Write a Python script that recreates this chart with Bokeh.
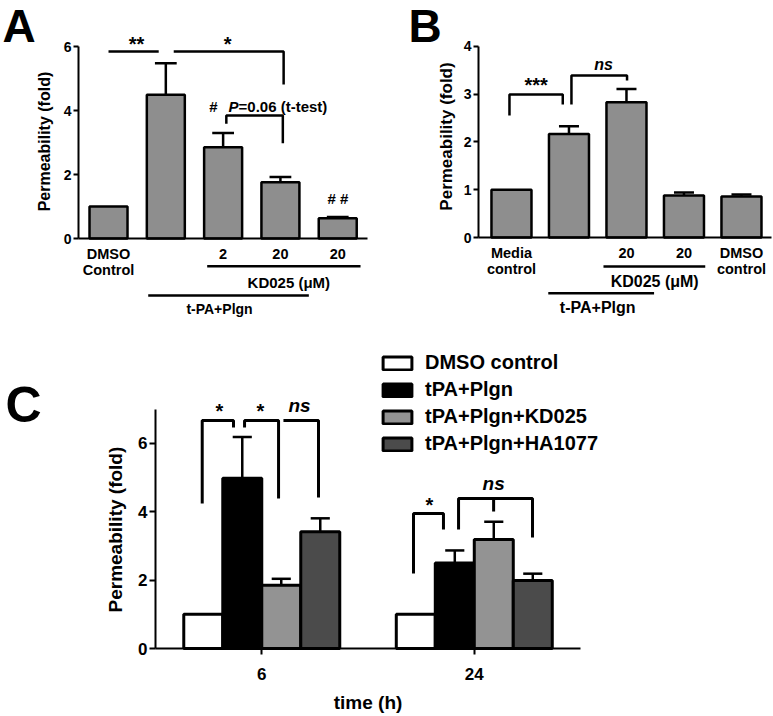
import math
from bokeh.plotting import figure
from bokeh.models import Range1d, LinearAxis, FixedTicker, ColumnDataSource, Legend, LegendItem
from bokeh.layouts import column, row
from bokeh.core.properties import value
from bokeh.transform import dodge
from bokeh.embed import file_html
from bokeh.resources import INLINE

FONT = "Liberation Sans"
FV = value(FONT)

# ---------------- data ----------------
# Panel A
a_x = [0, 1, 2, 3, 4]
a_labels = ["DMSO\nControl", "", "2", "20", "20"]
a_values = [1.00, 4.49, 2.85, 1.76, 0.63]
a_errors = [0.00, 0.99, 0.45, 0.16, 0.04]
a_yticks = [0, 2, 4, 6]

# Panel B
b_x = [0, 1, 2, 3, 4]
b_labels = ["Media\ncontrol", "", "20", "20", "DMSO\ncontrol"]
b_values = [1.00, 2.17, 2.83, 0.88, 0.86]
b_errors = [0.00, 0.16, 0.28, 0.06, 0.04]
b_yticks = [0, 1, 2, 3, 4]

# Panel C
c_x = [0.5, 1.5]
c_times = ["6", "24"]
c_series = ["DMSO control", "tPA+Plgn", "tPA+Plgn+KD025", "tPA+Plgn+HA1077"]
c_dmso = [1.00, 1.00]
c_tpa = [4.98, 2.50]
c_kd = [1.85, 3.19]
c_ha = [3.42, 1.99]
c_dmso_err = [0.00, 0.00]
c_tpa_err = [1.21, 0.37]
c_kd_err = [0.19, 0.52]
c_ha_err = [0.39, 0.20]
c_yticks = [0, 2, 4, 6]
c_colors = ["white", "black", "#939393", "#4b4b4b"]

BAR_GRAY = "#8e8e8e"


def make_fig(w, h, xr, yr):
    p = figure(width=w, height=h, x_range=Range1d(*xr), y_range=Range1d(*yr),
               x_axis_type=None, y_axis_type=None, toolbar_location=None,
               output_backend="svg", min_border=0, outline_line_color=None,
               background_fill_color="white", border_fill_color="white")
    p.min_border_left = 0
    p.min_border_right = 0
    p.min_border_top = 0
    p.min_border_bottom = 0
    return p


def style_axis(ax, size, tick_out, standoff):
    ax.axis_line_width = 2
    ax.axis_line_color = "black"
    ax.major_tick_line_width = 2
    ax.major_tick_line_color = "black"
    ax.major_tick_out = tick_out
    ax.major_tick_in = 0
    ax.minor_tick_line_color = None
    ax.major_label_text_font = FONT
    ax.major_label_text_font_style = "bold"
    ax.major_label_text_font_size = size
    ax.major_label_text_color = "black"
    ax.major_label_text_line_height = 1.0
    ax.major_label_standoff = standoff


def txt(p, x, y, t, size, align="center", baseline="middle", style="bold", angle=0.0):
    p.text(x=x, y=y, text=t, text_font=FV, text_font_style=style, text_font_size=size,
           text_align=align, text_baseline=baseline, text_color="black", angle=angle)


def error_bars(p, xs, vals, errs, half):
    x0, y0, y1 = [], [], []
    for x, v, e in zip(xs, vals, errs):
        if e > 0:
            x0.append(x); y0.append(v); y1.append(v + e)
    p.segment(x0=x0, y0=y0, x1=x0, y1=y1, line_color="black", line_width=2.5)
    p.segment(x0=[x - half for x in x0], y0=y1, x1=[x + half for x in x0], y1=y1,
              line_color="black", line_width=2.5)


# ---------------- Panel A ----------------
pA = make_fig(390, 318, (-1.885, 4.921), (-2.5, 7.4375))
yA = LinearAxis(fixed_location=-0.5236, bounds=(0, 6), ticker=FixedTicker(ticks=a_yticks))
style_axis(yA, "14px", 5, 2)
pA.add_layout(yA, "left")
xA = LinearAxis(fixed_location=0, bounds=(-0.5236, 4.52), ticker=FixedTicker(ticks=a_x),
                major_label_overrides={i: l for i, l in zip(a_x, a_labels)})
style_axis(xA, "14.5px", 0, 7)
xA.major_tick_line_color = None
pA.add_layout(xA, "below")

pA.vbar(x=a_x, top=a_values, width=0.663, fill_color=BAR_GRAY, line_color="black", line_width=2.5)
error_bars(pA, a_x, a_values, a_errors, 0.19)

pA.multi_line(xs=[[0, 0.876], [1.138, 3.056, 3.056], [2.056, 2.056, 3.042, 3.042],
                  [1.722, 4.398], [0.693, 3.496]],
              ys=[[5.844, 5.844], [5.844, 5.844, 4.8125], [3.584, 3.844, 3.844, 2.978],
                  [-0.866, -0.866], [-1.781, -1.781]],
              line_color="black", line_width=2.5)
txt(pA, [-1.85], [6.64], ["A"], "46px", align="left")
txt(pA, [-1.117], [3.03], ["Permeability (fold)"], "16px", angle=math.pi / 2)
txt(pA, [0.489, 2.077], [6.066, 6.066], ["**", "*"], "20px")
txt(pA, [1.832], [4.14], ["#"], "15px")
txt(pA, [2.094], [4.14], ["P"], "15px", align="left", style="bold italic")
txt(pA, [2.269], [4.14], ["=0.06 (t-test)"], "15px", align="left")
txt(pA, [4.005], [1.25], ["# #"], "15px")
txt(pA, [3.147], [-1.366], ["KD025 (\u03bcM)"], "15px")
txt(pA, [1.937], [-2.19], ["t-PA+Plgn"], "14px")

# ---------------- Panel B ----------------
pB = make_fig(383, 318, (-2.104, 4.557), (-1.696, 4.963))
yB = LinearAxis(fixed_location=-0.574, bounds=(0, 4), ticker=FixedTicker(ticks=b_yticks))
style_axis(yB, "14px", 5, 2)
pB.add_layout(yB, "left")
xB = LinearAxis(fixed_location=0, bounds=(-0.574, 4.52), ticker=FixedTicker(ticks=b_x),
                major_label_overrides={i: l for i, l in zip(b_x, b_labels)})
style_axis(xB, "14.5px", 0, 7)
xB.major_tick_line_color = None
pB.add_layout(xB, "below")

pB.vbar(x=b_x, top=b_values, width=0.696, fill_color=BAR_GRAY, line_color="black", line_width=2.5)
error_bars(pB, b_x, b_values, b_errors, 0.174)

pB.multi_line(xs=[[-0.035, -0.035, 0.892, 0.892], [1.043, 1.043, 2.01, 2.01],
                  [1.60, 3.37], [0.64, 2.48]],
              ys=[[2.555, 2.995, 2.995, 2.785], [2.785, 3.393, 3.393, 3.288],
                  [-0.607, -0.607], [-1.166, -1.166]],
              line_color="black", line_width=2.5)
txt(pB, [-1.791], [4.43], ["B"], "46px", align="left")
txt(pB, [-1.13], [2.115], ["Permeability (fold)"], "17px", angle=math.pi / 2)
txt(pB, [0.43], [3.185], ["***"], "20px")
txt(pB, [1.6], [3.615], ["ns"], "16px", style="bold italic")
txt(pB, [2.49], [-0.921], ["KD025 (\u03bcM)"], "16px")
txt(pB, [1.50], [-1.47], ["t-PA+Plgn"], "16px")

# ---------------- Panel C ----------------
pC = make_fig(773, 398, (-0.7294, 2.908), (-1.990, 9.658))
yC = LinearAxis(fixed_location=0, bounds=(0, 7), ticker=FixedTicker(ticks=c_yticks))
style_axis(yC, "17px", 6, 2)
pC.add_layout(yC, "left")
xC = LinearAxis(fixed_location=0, bounds=(0, 2), ticker=FixedTicker(ticks=c_x),
                major_label_overrides={x: t for x, t in zip(c_x, c_times)})
style_axis(xC, "17px", 6, 13)
pC.add_layout(xC, "below")

srcC = ColumnDataSource(dict(x=c_x, dmso=c_dmso, tpa=c_tpa, kd=c_kd, ha=c_ha))
BW = 0.1835
offsets = [-1.5 * BW, -0.5 * BW, 0.5 * BW, 1.5 * BW]
cols = ["dmso", "tpa", "kd", "ha"]
rends = []
for i, col in enumerate(cols):
    r = pC.vbar(x=dodge("x", offsets[i]), top=col, width=BW, source=srcC,
                fill_color=c_colors[i], line_color="black", line_width=3)
    rends.append(r)

for i, (vals, errs) in enumerate([(c_dmso, c_dmso_err), (c_tpa, c_tpa_err),
                                  (c_kd, c_kd_err), (c_ha, c_ha_err)]):
    error_bars(pC, [x + offsets[i] for x in c_x], vals, errs, 0.045)

pC.multi_line(xs=[[0.2198, 0.2198, 0.367, 0.367], [0.419, 0.419, 0.579, 0.579],
                  [0.602, 0.767, 0.767], [1.214, 1.214, 1.355, 1.355],
                  [1.426, 1.426, 1.774, 1.774], [1.591, 1.591]],
              ys=[[4.243, 6.673, 6.673, 6.468], [6.468, 6.673, 6.673, 4.39],
                  [6.673, 6.673, 4.419], [2.195, 3.951, 3.951, 3.483],
                  [3.483, 4.39, 4.39, 3.248], [4.39, 4.009]],
              line_color="black", line_width=3)
txt(pC, [0.301, 0.494, 1.289], [6.953, 6.953, 4.203], ["*", "*", "*"], "20px")
txt(pC, [0.678, 1.591], [7.11, 4.826], ["ns", "ns"], "19px", style="bold italic")
txt(pC, [-0.706], [7.14], ["C"], "50px", align="left")
txt(pC, [-0.188], [3.48], ["Permeability (fold)"], "19px", angle=math.pi / 2)
txt(pC, [1.0], [-1.58], ["time (h)"], "19px")

legend = Legend(items=[LegendItem(label=n, renderers=[r]) for n, r in zip(c_series, rends)],
                location=(379, 261), orientation="vertical", padding=0, margin=0, spacing=4,
                glyph_width=36, glyph_height=16, label_height=23, label_standoff=10,
                label_text_font=FONT, label_text_font_style="bold", label_text_font_size="20px",
                label_text_color="black", border_line_color=None, background_fill_alpha=0)
pC.add_layout(legend)

layout = column(row(pA, pB), pC)
open("out.html", "w").write(file_html(layout, INLINE))
